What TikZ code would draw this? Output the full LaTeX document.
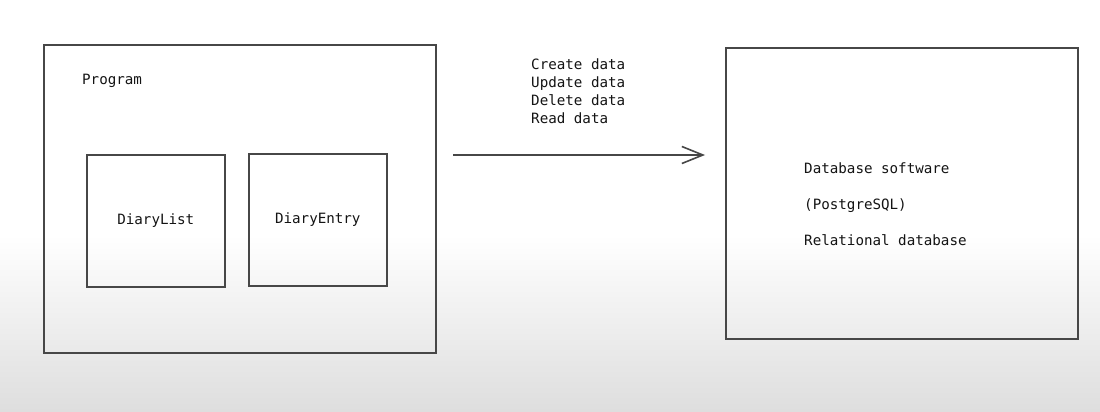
\documentclass[tikz,border=0pt]{standalone}
\usepackage{fontspec}
\setmonofont{DejaVu Sans Mono}
\usetikzlibrary{arrows.meta}
\begin{document}
\begin{tikzpicture}[x=1pt,y=-1pt,
  box/.style={draw=black!72, line width=1.6pt, inner sep=0pt, anchor=north west},
  lbl/.style={inner sep=0pt, text=black!92, font=\ttfamily\fontsize{14.2}{18}\selectfont},
  conn/.style={draw=black!72, line width=1.6pt, -{Straight Barb[length=21pt,width=17pt,line width=1.6pt]}}]
  % background
  \fill[white] (0,0) rectangle (1100,412);
  \shade[top color=white, bottom color=black!13] (0,235) rectangle (1100,412);
  \useasboundingbox (0,0) rectangle (1100,412);
  % boxes
  \node[box, minimum width=392pt, minimum height=308pt] (prog) at (43,44) {};
  \node[box, minimum width=138pt, minimum height=132pt] (dlist) at (86,154) {};
  \node[box, minimum width=138pt, minimum height=132pt] (dentry) at (248,153) {};
  \node[box, minimum width=352pt, minimum height=291pt] (db) at (725,47) {};
  % labels
  \node[lbl, anchor=west] (progl) at (82,81) {Program};
  \node[lbl] (dlistl) at (dlist.center) {DiaryList};
  \node[lbl] (dentryl) at (dentry.center) {DiaryEntry};
  \node[lbl, anchor=north west, align=left] (ops) at (531,59) {Create data\\Update data\\Delete data\\Read data};
  \node[lbl, anchor=north west, align=left, font=\ttfamily\fontsize{14.2}{35.6}\selectfont] (dbl) at (804,163) {Database software\\(PostgreSQL)\\Relational database};
  % connector
  \coordinate (a1) at (453,155);
  \coordinate (a2) at (705,155);
  \draw[conn] (a1) -- (a2);
\end{tikzpicture}
\end{document}
